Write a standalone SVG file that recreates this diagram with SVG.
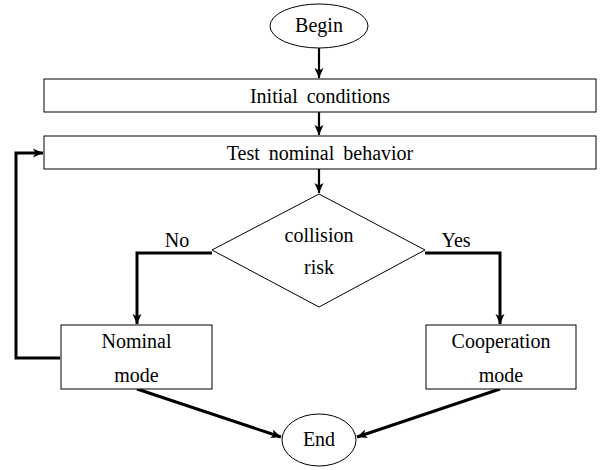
<svg xmlns="http://www.w3.org/2000/svg" width="603" height="470" viewBox="0 0 603 470">
<style>
.n{fill:#fff;stroke:#000;stroke-width:1}
.t{font-family:'Liberation Serif','Times New Roman',Times,serif;font-size:20px;fill:#000;text-anchor:middle}
.c{fill:none;stroke:#000;stroke-linejoin:miter}
.thin{stroke-width:2.2}
.thick{stroke-width:3}
</style>
<defs>
<marker id="ah" viewBox="-1 -6 12 12" refX="10" refY="0" markerWidth="12" markerHeight="12" markerUnits="userSpaceOnUse" orient="auto">
<path d="M0,-4.5 L10,0 L0,4.5 L2.5,0 Z" fill="#000"/>
</marker>
</defs>
<rect width="603" height="470" fill="#fff"/>
<g id="connectors">
<path class="c thin" d="M319,48 V78" marker-end="url(#ah)"/>
<path class="c thin" d="M319,112 V135" marker-end="url(#ah)"/>
<path class="c thin" d="M319,169 V193" marker-end="url(#ah)"/>
<path class="c thick" d="M212,253 H137 V324" marker-end="url(#ah)"/>
<path class="c thick" d="M425,253 H500 V324" marker-end="url(#ah)"/>
<path class="c thick" d="M60,358 H16 V153 H43" marker-end="url(#ah)"/>
<path class="c thick" d="M137,389 L281,437" marker-end="url(#ah)"/>
<path class="c thick" d="M500,389 L357,437" marker-end="url(#ah)"/>
<text class="t" x="177" y="247">No</text>
<text class="t" x="456" y="247">Yes</text>
</g>
<g id="begin">
<ellipse class="n" cx="319" cy="26" rx="49" ry="22"/>
<text class="t" x="319" y="32">Begin</text>
</g>
<g id="initial">
<rect class="n" x="44" y="79" width="552" height="33"/>
<text class="t" x="320" y="102.5" word-spacing="4">Initial conditions</text>
</g>
<g id="test">
<rect class="n" x="44" y="136" width="552" height="33"/>
<text class="t" x="320" y="160" word-spacing="4">Test nominal behavior</text>
</g>
<g id="decision">
<polygon class="n" points="319,194 425,250 319,307 212,250"/>
<text class="t" x="319" y="242">collision</text>
<text class="t" x="319" y="274">risk</text>
</g>
<g id="nominal">
<rect class="n" x="61" y="325" width="151" height="64"/>
<text class="t" x="136.5" y="348">Nominal</text>
<text class="t" x="136.5" y="382">mode</text>
</g>
<g id="cooperation">
<rect class="n" x="426" y="325" width="150" height="64"/>
<text class="t" x="501" y="348">Cooperation</text>
<text class="t" x="501" y="382">mode</text>
</g>
<g id="end">
<ellipse class="n" cx="319" cy="440" rx="37" ry="26"/>
<text class="t" x="319" y="446">End</text>
</g>
</svg>
